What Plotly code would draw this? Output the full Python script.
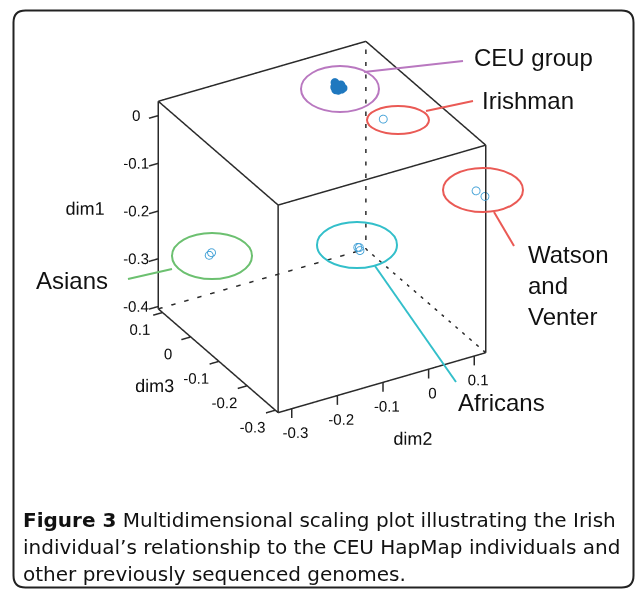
import plotly.graph_objects as go

W, H = 636, 590

# ---------------- data ----------------
dim2_range = [-0.33, 0.125]   # x (front bottom edge)
dim3_range = [-0.31, 0.115]   # y (left bottom edge, depth)
dim1_range = [-0.405, 0.03]   # z (vertical)

dim1_ticks = [-0.4, -0.3, -0.2, -0.1, 0]
dim2_ticks = [-0.3, -0.2, -0.1, 0, 0.1]
dim3_ticks = [-0.3, -0.2, -0.1, 0, 0.1]
dim1_ticklabels = ["-0.4", "-0.3", "-0.2", "-0.1", "0"]
dim2_ticklabels = ["-0.3", "-0.2", "-0.1", "0", "0.1"]
dim3_ticklabels = ["-0.3", "-0.2", "-0.1", "0", "0.1"]

ceu_dim2 = [0.010, 0.015, 0.020, 0.025, 0.030, 0.012, 0.018, 0.024, 0.016, 0.022, 0.028, 0.019, 0.021, 0.017]
ceu_dim3 = [0.040, 0.048, 0.044, 0.050, 0.042, 0.036, 0.052, 0.038, 0.046, 0.041, 0.047, 0.043, 0.045, 0.039]
ceu_dim1 = [0.005, -0.002, 0.003, 0.000, -0.004, 0.002, 0.006, -0.003, -0.006, 0.004, 0.001, -0.001, -0.008, 0.0]

irish_dim2 = [0.042]
irish_dim3 = [-0.080]
irish_dim1 = [-0.010]

wv_dim2 = [0.120, 0.124]
wv_dim3 = [-0.283, -0.308]
wv_dim1 = [-0.078, -0.078]

afr_dim2 = [0.090, 0.096, 0.093]
afr_dim3 = [0.088, 0.092, 0.085]
afr_dim1 = [-0.378, -0.382, -0.384]

asn_dim2 = [-0.240, -0.233]
asn_dim3 = [0.081, 0.084]
asn_dim1 = [-0.300, -0.298]

# ---------------- helpers ----------------
x0, x1 = dim2_range
y0, y1 = dim3_range
z0, z1 = dim1_range
sx, sy, sz = x1 - x0, y1 - y0, z1 - z0
PAD = 0.45

POINT_COLOR = "#3f9fd6"
BOX_COLOR = "#2a2a2a"

fig = go.Figure()

# box edges (the edges meeting at the far bottom corner are dashed)
corners = {}
for i, xx in enumerate([x0, x1]):
    for j, yy in enumerate([y0, y1]):
        for k, zz in enumerate([z0, z1]):
            corners[(i, j, k)] = (xx, yy, zz)
edges = []
for a in corners:
    for b in corners:
        if a < b and sum(abs(p - q) for p, q in zip(a, b)) == 1:
            edges.append((a, b))
hidden = (1, 1, 0)
ex, ey, ez, hx, hy, hz = [], [], [], [], [], []
for a, b in edges:
    tx, ty, tz = (hx, hy, hz) if hidden in (a, b) else (ex, ey, ez)
    for c in (a, b):
        tx.append(corners[c][0]); ty.append(corners[c][1]); tz.append(corners[c][2])
    tx.append(None); ty.append(None); tz.append(None)

fig.add_trace(go.Scatter3d(x=ex, y=ey, z=ez, mode="lines",
                           line=dict(color=BOX_COLOR, width=3), hoverinfo="skip", showlegend=False))
fig.add_trace(go.Scatter3d(x=hx, y=hy, z=hz, mode="lines",
                           line=dict(color=BOX_COLOR, width=3, dash="dash"), hoverinfo="skip", showlegend=False))

# ticks
TL = 0.045
tx, ty, tz = [], [], []
for v in dim1_ticks:   # back-left vertical edge
    tx += [x0, x0 - TL * sx, None]; ty += [y1, y1, None]; tz += [v, v, None]
for v in dim2_ticks:   # front-bottom edge
    tx += [v, v, None]; ty += [y0, y0, None]; tz += [z0, z0 - TL * sz, None]
for v in dim3_ticks:   # left-bottom edge
    tx += [x0, x0 - TL * sx, None]; ty += [v, v, None]; tz += [z0, z0, None]
fig.add_trace(go.Scatter3d(x=tx, y=ty, z=tz, mode="lines",
                           line=dict(color=BOX_COLOR, width=3), hoverinfo="skip", showlegend=False))

tick_font = dict(family="Liberation Sans, Arial", size=15, color="#111")
MC = "middle center"
fig.add_trace(go.Scatter3d(
    x=[x0 - 0.08 * sx] * len(dim1_ticks), y=[y1 + 0.047 * sy] * len(dim1_ticks), z=dim1_ticks,
    mode="text", text=dim1_ticklabels, textposition=MC, textfont=tick_font,
    hoverinfo="skip", showlegend=False))
fig.add_trace(go.Scatter3d(
    x=dim2_ticks, y=[y0 - 0.03 * sy] * len(dim2_ticks), z=[z0 - 0.10 * sz] * len(dim2_ticks),
    mode="text", text=dim2_ticklabels, textposition=MC, textfont=tick_font,
    hoverinfo="skip", showlegend=False))
fig.add_trace(go.Scatter3d(
    x=[x0 - 0.11 * sx] * len(dim3_ticks), y=dim3_ticks, z=[z0 - 0.05 * sz] * len(dim3_ticks),
    mode="text", text=dim3_ticklabels, textposition=MC, textfont=tick_font,
    hoverinfo="skip", showlegend=False))

title_font = dict(family="Liberation Sans, Arial", size=18, color="#111")
fig.add_trace(go.Scatter3d(
    x=[x0 - 0.253 * sx, -0.05, x0 - 0.333 * sx],
    y=[y1 + 0.1735 * sy, y0 - 0.058 * sy, -0.15 + 0.078 * sy],
    z=[-0.2, z0 - 0.272 * sz, z0],
    mode="text", text=["dim1", "dim2", "dim3"], textposition=MC, textfont=title_font,
    hoverinfo="skip", showlegend=False))

# points (CEU individuals overlap into a solid blob)
for xs, ys, zs, col, sym in [(ceu_dim2, ceu_dim3, ceu_dim1, "#1f78bf", "circle"),
                             (irish_dim2, irish_dim3, irish_dim1, POINT_COLOR, "circle-open"),
                             (wv_dim2, wv_dim3, wv_dim1, POINT_COLOR, "circle-open"),
                             (afr_dim2, afr_dim3, afr_dim1, POINT_COLOR, "circle-open"),
                             (asn_dim2, asn_dim3, asn_dim1, POINT_COLOR, "circle-open")]:
    fig.add_trace(go.Scatter3d(x=xs, y=ys, z=zs, mode="markers",
                               marker=dict(symbol=sym, size=5, color=col),
                               hoverinfo="skip", showlegend=False))

# ---------------- 2D overlay (pixel helpers) ----------------
def px(x):
    return x / W

def py(y):
    return 1 - y / H

shapes = []
def ellipse(cx, cy, rx, ry, color):
    shapes.append(dict(type="circle", xref="paper", yref="paper",
                       x0=px(cx - rx), x1=px(cx + rx), y0=py(cy + ry), y1=py(cy - ry),
                       line=dict(color=color, width=2)))

def seg(xa, ya, xb, yb, color):
    shapes.append(dict(type="line", xref="paper", yref="paper",
                       x0=px(xa), y0=py(ya), x1=px(xb), y1=py(yb),
                       line=dict(color=color, width=2)))

PURPLE = "#b978c0"
RED = "#ea5a55"
CYAN = "#33bfca"
GREEN = "#6cc070"

ellipse(340, 89, 39, 23, PURPLE)
seg(364, 72, 463, 61, PURPLE)
ellipse(398, 120, 31, 14, RED)
seg(426, 111, 473, 101, RED)
ellipse(483, 190, 40, 22, RED)
seg(494, 212, 514, 246, RED)
ellipse(357, 245, 40, 23, CYAN)
seg(375, 266, 456, 382, CYAN)
ellipse(212, 256, 40, 23, GREEN)
seg(172, 269, 128, 279, GREEN)

# rounded border
L, T, R, B, r = 13.5, 10.5, 633.5, 587.5, 12
path = (f"M {px(L + r)},{py(T)} L {px(R - r)},{py(T)} Q {px(R)},{py(T)} {px(R)},{py(T + r)} "
        f"L {px(R)},{py(B - r)} Q {px(R)},{py(B)} {px(R - r)},{py(B)} "
        f"L {px(L + r)},{py(B)} Q {px(L)},{py(B)} {px(L)},{py(B - r)} "
        f"L {px(L)},{py(T + r)} Q {px(L)},{py(T)} {px(L + r)},{py(T)} Z")
shapes.append(dict(type="path", xref="paper", yref="paper", path=path,
                   line=dict(color="#222", width=2)))

big = dict(family="Liberation Sans, Arial", size=24, color="#111")
annotations = []
def label(x, y, text, font=big, align="left"):
    annotations.append(dict(x=px(x), y=py(y), xref="paper", yref="paper", text=text,
                            showarrow=False, xanchor="left", yanchor="middle",
                            align=align, font=font))

label(472, 57, "CEU group")
label(480, 100, "Irishman")
label(526, 285, "Watson<br>and<br>Venter")
label(34, 280, "Asians")
label(456, 402, "Africans")

cap_font = dict(family="DejaVu Sans", size=20, color="#111")
caption_lines = ["<b>Figure 3</b> Multidimensional scaling plot illustrating the Irish",
                 "individual\u2019s relationship to the CEU HapMap individuals and",
                 "other previously sequenced genomes."]
for i, line in enumerate(caption_lines):
    label(21, 520 + 27 * i, line, font=cap_font)

# scene domain centred on box centre (322, 227)
cx, cy, dw, dh = 322, 227, 560, 440
dom_x = [px(cx - dw / 2), px(cx + dw / 2)]
dom_y = [py(cy + dh / 2), py(cy - dh / 2)]

def axis(rng, span):
    return dict(visible=False, range=[rng[0] - PAD * span, rng[1] + PAD * span])

ZOOM = 2.07
fig.update_layout(
    width=W, height=H, margin=dict(l=0, r=0, t=0, b=0),
    paper_bgcolor="white", plot_bgcolor="white",
    scene=dict(
        domain=dict(x=dom_x, y=dom_y),
        xaxis=axis(dim2_range, sx), yaxis=axis(dim3_range, sy), zaxis=axis(dim1_range, sz),
        aspectmode="manual", aspectratio=dict(x=ZOOM, y=ZOOM, z=ZOOM),
        bgcolor="rgba(0,0,0,0)",
        camera=dict(eye=dict(x=-0.866, y=-1.5, z=1.0), up=dict(x=0, y=0, z=1),
                    center=dict(x=0, y=0, z=0), projection=dict(type="orthographic")),
    ),
    shapes=shapes, annotations=annotations, showlegend=False,
)

fig.write_html("out.html", config={"displayModeBar": False},
               post_script="document.body.style.margin='0px';")
